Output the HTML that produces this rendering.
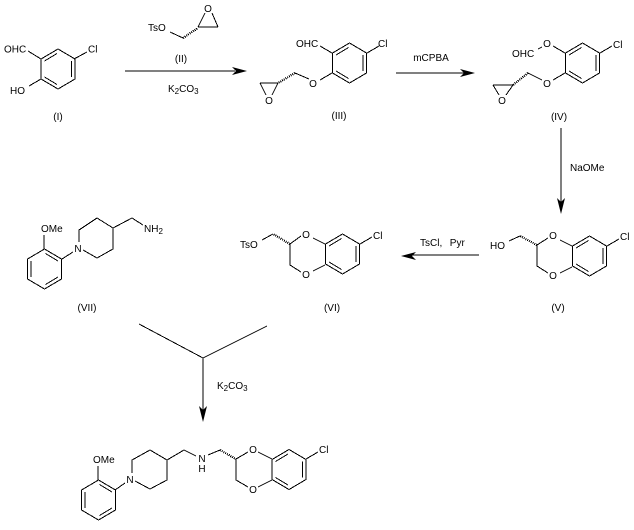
<!DOCTYPE html>
<html>
<head>
<meta charset="utf-8">
<style>
html,body{margin:0;padding:0;background:#fff;width:634px;height:530px;overflow:hidden}
svg{display:block}
text{font-family:"Liberation Sans",sans-serif;font-size:10px;fill:#000}
.m{text-anchor:middle}
.b,.b path,.b line{shape-rendering:crispEdges}
.b line,.b path{stroke:#000;stroke-width:1;fill:none}
.h{stroke:#000;stroke-width:2.2;stroke-dasharray:1 1;fill:none;shape-rendering:crispEdges}
</style>
</head>
<body>
<svg width="634" height="530" viewBox="0 0 634 530" xmlns="http://www.w3.org/2000/svg">
<defs>
<g id="ra" class="b"><path d="M0 -20L17 -10V10L0 20L-17 10V-10Z"/><path d="M-13.5 -8L-1 -15.5M13.5 -8V8M-13.5 8L-1 15.5"/></g>
<g id="rb" class="b"><path d="M0 -20L17 -10V10L0 20L-17 10V-10Z"/><path d="M-13.5 -8V8M1 -15.5L13.5 -8M1 15.5L13.5 8"/></g>
</defs>
<g class="b">
<!-- I -->
<use href="#ra" x="58" y="69"/>
<path d="M74 59L87 52M41 59L28 51M41 79L29 86"/>
<!-- II -->
<path d="M170 32L183 38M198 27H218M198 27L205 13M218 27L212 13"/>
<!-- arrow 1 -->
<path d="M125 71H235"/>
<!-- III -->
<use href="#ra" x="349.5" y="63"/>
<path d="M367 53L379 46M332 53L320 46M332 73L320 80M309 79L295 73M278 83H260M278 83L272 95M260 83L266 95"/>
<!-- arrow 2 -->
<path d="M396 73H465"/>
<!-- IV -->
<use href="#ra" x="582.5" y="63"/>
<path d="M600 53L612 46M565 53L553 46M538 49L542 47M565 73L553 80M542 80L528 73M513 85H493M513 85L506 95M493 85L499 95"/>
<!-- arrow vert -->
<path d="M561 128V204"/>
<!-- V -->
<use href="#ra" x="589.5" y="256"/>
<path d="M607 246L619 239M572 246L560 240M572 267L560 273M548 238L537 245V266L548 273M520 236L509 241"/>
<!-- arrow 4 -->
<path d="M479 255H410"/>
<!-- VI -->
<use href="#ra" x="342.5" y="254"/>
<path d="M360 244L372 237M325 244L313 238M325 265L313 271M301 236L290 244V265L301 272M273 234L262 240"/>
<!-- VII -->
<use href="#rb" x="44.5" y="269"/>
<path d="M44 249V235M62 259L73 252M79 242V230L97 218L113 228V249L97 258L83 250M113 228L132 218L143 225"/>
<!-- Y -->
<path d="M139 324L203 358L267 326M203 358V412"/>
<!-- final -->
<use href="#rb" x="98.5" y="500"/>
<use href="#ra" x="289" y="469.5"/>
<path d="M98 480V466M115 490L125 483M132 473V460L150 450L167 460V480L150 489L135 481M167 460L184 450L196 456M208 455L220 450M236 459V480L248 487M236 459L248 452M258 452L272 459M258 487L272 480M306 459L318 452"/>
</g>
<!-- hashed -->
<g class="h">
<line x1="183" y1="38" x2="198" y2="28"/>
<line x1="295" y1="73" x2="278" y2="83"/>
<line x1="528" y1="73" x2="513" y2="85"/>
<line x1="537" y1="245" x2="520" y2="236"/>
<line x1="290" y1="244" x2="273" y2="234"/>
<line x1="220" y1="450" x2="236" y2="459"/>
</g>
<!-- arrowheads -->
<g fill="#000">
<polygon points="247,71 232,67 236,71 232,75"/>
<polygon points="475,73 460,69 464,73 460,77"/>
<polygon points="561,214 557,198 561,202 565,198"/>
<polygon points="401,256 416,252 412,256 416,260"/>
<polygon points="203,422 199,406 203,410 207,406"/>
</g>
<!-- labels -->
<text x="4" y="52.5">OHC</text>
<text x="88" y="52.5">Cl</text>
<text x="10" y="94">HO</text>
<text class="m" x="58" y="120">(I)</text>
<text x="148" y="31">TsO</text>
<text class="m" x="208" y="12">O</text>
<text class="m" x="181" y="62">(II)</text>
<text x="168" y="92">K<tspan font-size="8" dy="2">2</tspan><tspan dy="-2">CO</tspan><tspan font-size="8" dy="2">3</tspan></text>

<text x="296" y="47">OHC</text>
<text x="378" y="47">Cl</text>
<text class="m" x="313" y="87">O</text>
<text class="m" x="269" y="104">O</text>
<text class="m" x="339" y="119">(III)</text>
<text class="m" x="431" y="61">mCPBA</text>

<text x="512" y="57">OHC</text>
<text class="m" x="547" y="47">O</text>
<text x="613" y="48">Cl</text>
<text class="m" x="547" y="87">O</text>
<text class="m" x="502" y="104">O</text>
<text class="m" x="559" y="120">(IV)</text>
<text x="570" y="171">NaOMe</text>

<text x="490" y="249">HO</text>
<text class="m" x="553" y="239">O</text>
<text class="m" x="553" y="279">O</text>
<text x="620" y="240">Cl</text>
<text class="m" x="558" y="311">(V)</text>
<text x="420" y="246" word-spacing="1">TsCl,&#160; Pyr</text>

<text x="240" y="248">TsO</text>
<text class="m" x="306" y="238">O</text>
<text class="m" x="306" y="278">O</text>
<text x="373" y="239">Cl</text>
<text class="m" x="332" y="311">(VI)</text>

<text x="41" y="232">OMe</text>
<text class="m" x="78" y="252">N</text>
<text x="144" y="232">NH<tspan font-size="8" dy="2">2</tspan></text>
<text class="m" x="87" y="311">(VII)</text>

<text x="217" y="389">K<tspan font-size="8" dy="2">2</tspan><tspan dy="-2">CO</tspan><tspan font-size="8" dy="2">3</tspan></text>

<text x="93" y="463">OMe</text>
<text class="m" x="130" y="483">N</text>
<text class="m" x="202" y="462">N</text>
<text class="m" x="202" y="472">H</text>
<text class="m" x="253" y="453">O</text>
<text class="m" x="253" y="493">O</text>
<text x="319" y="453">Cl</text>
</svg>
</body>
</html>
